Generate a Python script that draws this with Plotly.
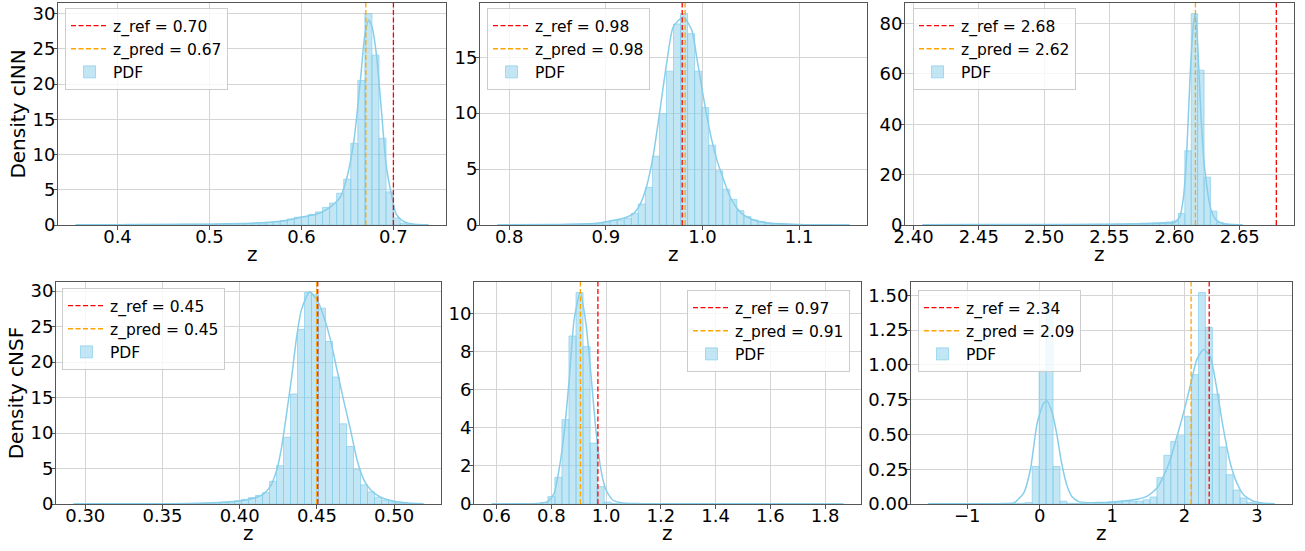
import plotly.graph_objects as go

FONT = "DejaVu Sans"
SKY = "#87ceeb"
N_BINS = 50
W, H = 1305, 551

# ── Panel 1: cINN, z_ref 0.70 ─────────────────────────────────────────
P1_ZMIN, P1_ZMAX = 0.3545, 0.738
P1_ZREF, P1_ZPRED = 0.700, 0.670
P1_DENSITY = [
    0.05, 0.03, 0.05, 0.05, 0.06, 0.05, 0.07, 0.08, 0.06, 0.08,
    0.08, 0.09, 0.10, 0.09, 0.10, 0.11, 0.12, 0.12, 0.13, 0.14,
    0.15, 0.16, 0.18, 0.20, 0.22, 0.25, 0.30, 0.35, 0.45, 0.60,
    0.85, 1.10, 1.20, 1.50, 1.85, 2.50, 3.10, 4.50, 6.50, 11.6,
    20.5, 30.0, 24.1, 12.3, 4.70, 1.00, 0.25, 0.08, 0.03, 0.02,
]
P1_KDE_Z = [0.355, 0.40, 0.45, 0.50, 0.54, 0.565, 0.581, 0.599, 0.617, 0.631,
            0.642, 0.649, 0.657, 0.664, 0.669, 0.673, 0.677, 0.6815, 0.687,
            0.692, 0.698, 0.703, 0.710, 0.721, 0.738]
P1_KDE_D = [0.03, 0.05, 0.08, 0.12, 0.22, 0.40, 0.60, 1.10, 1.55, 2.50,
            3.90, 6.50, 11.9, 20.4, 27.0, 29.1, 28.0, 24.2, 16.2,
            8.60, 4.20, 1.55, 0.60, 0.15, 0.02]

# ── Panel 2: cINN, z_ref 0.98 ─────────────────────────────────────────
P2_ZMIN, P2_ZMAX = 0.788, 1.152
P2_ZREF, P2_ZPRED = 0.979, 0.982
P2_DENSITY = [
    0.01, 0.01, 0.01, 0.01, 0.02, 0.02, 0.02, 0.03, 0.03, 0.04,
    0.05, 0.06, 0.07, 0.08, 0.12, 0.25, 0.42, 0.45, 0.60, 1.04,
    1.87, 3.36, 6.15, 9.95, 13.75, 17.97, 18.9, 17.1, 13.75, 10.5,
    7.13, 4.84, 3.20, 2.29, 1.28, 0.75, 0.45, 0.30, 0.18, 0.10,
    0.06, 0.04, 0.03, 0.02, 0.02, 0.01, 0.01, 0.01, 0.01, 0.01,
]
P2_KDE_Z = [0.788, 0.85, 0.890, 0.904, 0.918, 0.9283, 0.9352, 0.942, 0.949,
            0.9559, 0.9628, 0.9697, 0.980, 0.989, 0.994, 1.001, 1.008, 1.015,
            1.022, 1.0287, 1.0356, 1.0425, 1.053, 1.066, 1.10, 1.152]
P2_KDE_D = [0.01, 0.05, 0.15, 0.35, 0.60, 1.00, 1.80, 3.40, 6.20,
            10.2, 14.4, 17.7, 18.6, 17.4, 15.0, 11.4, 8.20, 5.80,
            4.00, 2.50, 1.50, 0.90, 0.45, 0.20, 0.05, 0.01]

# ── Panel 3: cINN, z_ref 2.68 ─────────────────────────────────────────
P3_ZMIN, P3_ZMAX = 2.407, 2.652
P3_ZREF, P3_ZPRED = 2.678, 2.616
P3_DENSITY = [
    0.10, 0.10, 0.10, 0.10, 0.10, 0.10, 0.10, 0.10, 0.10, 0.10,
    0.15, 0.15, 0.15, 0.15, 0.15, 0.15, 0.15, 0.15, 0.15, 0.15,
    0.20, 0.20, 0.20, 0.25, 0.25, 0.25, 0.30, 0.30, 0.30, 0.35,
    0.40, 0.40, 0.50, 0.60, 0.70, 0.80, 0.90, 1.00, 1.20, 1.60,
    4.60, 29.5, 84.0, 61.5, 19.0, 5.50, 1.00, 0.30, 0.10, 0.05,
]
P3_KDE_Z = [2.407, 2.45, 2.50, 2.55, 2.58, 2.595, 2.600, 2.604, 2.6066,
            2.6092, 2.612, 2.6145, 2.616, 2.618, 2.6203, 2.623, 2.628,
            2.632, 2.637, 2.645, 2.652]
P3_KDE_D = [0.10, 0.15, 0.20, 0.30, 0.50, 0.80, 1.00, 3.30, 10.0,
            27.0, 60.0, 80.0, 84.0, 69.0, 43.0, 23.0, 6.00,
            2.00, 0.60, 0.20, 0.10]

# ── Panel 4: cNSF, z_ref 0.45 ─────────────────────────────────────────
P4_ZMIN, P4_ZMAX = 0.2924, 0.519
P4_ZREF, P4_ZPRED = 0.4505, 0.4498
P4_DENSITY = [
    0.01, 0.01, 0.01, 0.02, 0.02, 0.02, 0.02, 0.03, 0.03, 0.03,
    0.04, 0.04, 0.05, 0.05, 0.06, 0.07, 0.08, 0.10, 0.12, 0.15,
    0.20, 0.25, 0.35, 0.45, 0.65, 0.90, 1.20, 1.60, 3.20, 5.40,
    9.40, 15.5, 24.6, 29.8, 29.5, 27.6, 22.9, 17.9, 11.3, 8.10,
    4.90, 2.70, 1.70, 0.95, 0.55, 0.30, 0.15, 0.08, 0.04, 0.02,
]
P4_KDE_Z = [0.2924, 0.30, 0.35, 0.38, 0.400, 0.4088, 0.4153, 0.4196, 0.424,
            0.4272, 0.4304, 0.4337, 0.4369, 0.440, 0.4452, 0.450, 0.4543,
            0.4587, 0.463, 0.4674, 0.4717, 0.476, 0.4804, 0.4847, 0.4912,
            0.4999, 0.5086, 0.519]
P4_KDE_D = [0.01, 0.02, 0.05, 0.15, 0.42, 0.80, 1.40, 2.40, 4.80,
            8.10, 12.8, 18.0, 23.6, 27.4, 29.9, 28.8, 26.5,
            23.2, 18.9, 14.5, 10.5, 6.20, 3.40, 2.00, 0.95,
            0.38, 0.15, 0.05]

# ── Panel 5: cNSF, z_ref 0.97 ─────────────────────────────────────────
P5_ZMIN, P5_ZMAX = 0.5816, 1.867
P5_ZREF, P5_ZPRED = 0.970, 0.906
P5_DENSITY = [
    0.00, 0.00, 0.00, 0.01, 0.01, 0.02, 0.03, 0.08, 0.39, 1.40,
    4.43, 8.82, 11.1, 8.26, 3.20, 0.91, 0.10, 0.03, 0.01, 0.00,
    0.00, 0.00, 0.00, 0.00, 0.00, 0.00, 0.00, 0.00, 0.00, 0.00,
    0.00, 0.00, 0.00, 0.00, 0.00, 0.00, 0.00, 0.00, 0.00, 0.00,
    0.00, 0.00, 0.00, 0.00, 0.00, 0.00, 0.00, 0.00, 0.00, 0.00,
]
P5_KDE_Z = [0.5816, 0.70, 0.749, 0.786, 0.810, 0.828, 0.8466, 0.865, 0.8834,
            0.9054, 0.926, 0.944, 0.9626, 0.981, 0.9994, 1.024, 1.055,
            1.10, 1.30, 1.867]
P5_KDE_D = [0.005, 0.01, 0.02, 0.12, 0.56, 1.80, 3.70, 6.50, 9.70,
            11.1, 9.50, 6.90, 3.90, 1.80, 0.74, 0.21, 0.07,
            0.02, 0.01, 0.005]

# ── Panel 6: cNSF, z_ref 2.34 ─────────────────────────────────────────
P6_ZMIN, P6_ZMAX = -1.538, 3.244
P6_ZREF, P6_ZPRED = 2.34, 2.09
P6_DENSITY = [
    0.00, 0.00, 0.00, 0.00, 0.00, 0.00, 0.00, 0.00, 0.00, 0.00,
    0.00, 0.00, 0.003, 0.005, 0.01, 0.27, 0.962, 1.44, 0.27, 0.02,
    0.005, 0.005, 0.005, 0.01, 0.01, 0.01, 0.015, 0.015, 0.02, 0.02,
    0.02, 0.03, 0.05, 0.19, 0.35, 0.45, 0.49, 0.63, 0.93, 1.52,
    1.27, 0.79, 0.41, 0.21, 0.10, 0.043, 0.01, 0.005, 0.00, 0.00,
]
P6_KDE_Z = [-1.538, -1.0, -0.5, -0.35, -0.22, -0.128, -0.036, 0.05, 0.10,
            0.17, 0.24, 0.30, 0.378, 0.45, 0.55, 0.80, 1.02, 1.297, 1.48,
            1.62, 1.71, 1.803, 1.895, 1.986, 2.079, 2.17, 2.262, 2.354,
            2.447, 2.538, 2.63, 2.723, 2.814, 2.952, 3.10, 3.244]
P6_KDE_D = [0.001, 0.001, 0.003, 0.01, 0.08, 0.25, 0.58, 0.72, 0.74,
            0.66, 0.49, 0.30, 0.13, 0.05, 0.015, 0.01, 0.015, 0.03, 0.055,
            0.115, 0.20, 0.32, 0.487, 0.655, 0.85, 1.04, 1.11, 1.06,
            0.82, 0.535, 0.295, 0.15, 0.067, 0.02, 0.006, 0.002]

# ── Layout per panel (pixel boxes, legend corners, tick steps) ────────
PANELS = [
    dict(zmin=P1_ZMIN, zmax=P1_ZMAX, zref=P1_ZREF, zpred=P1_ZPRED,
         dens=P1_DENSITY, kz=P1_KDE_Z, kd=P1_KDE_D,
         box=(58, 446, 3, 225), leg=(65, 8), xdt=0.1, xfmt=".1f",
         ydt=5, yfmt="d", ytitle="Density cINN"),
    dict(zmin=P2_ZMIN, zmax=P2_ZMAX, zref=P2_ZREF, zpred=P2_ZPRED,
         dens=P2_DENSITY, kz=P2_KDE_Z, kd=P2_KDE_D,
         box=(480, 867, 3, 225), leg=(487, 8), xdt=0.1, xfmt=".1f",
         ydt=5, yfmt="d", ytitle=None),
    dict(zmin=P3_ZMIN, zmax=P3_ZMAX, zref=P3_ZREF, zpred=P3_ZPRED,
         dens=P3_DENSITY, kz=P3_KDE_Z, kd=P3_KDE_D,
         box=(905, 1294, 3, 225), leg=(913, 8), xdt=0.05, xfmt=".2f",
         ydt=20, yfmt="d", ytitle=None),
    dict(zmin=P4_ZMIN, zmax=P4_ZMAX, zref=P4_ZREF, zpred=P4_ZPRED,
         dens=P4_DENSITY, kz=P4_KDE_Z, kd=P4_KDE_D,
         box=(56, 441, 282, 504), leg=(62, 288), xdt=0.05, xfmt=".2f",
         ydt=5, yfmt="d", ytitle="Density cNSF"),
    dict(zmin=P5_ZMIN, zmax=P5_ZMAX, zref=P5_ZREF, zpred=P5_ZPRED,
         dens=P5_DENSITY, kz=P5_KDE_Z, kd=P5_KDE_D,
         box=(474, 861, 282, 504), leg=(687, 290), xdt=0.2, xfmt=".1f",
         ydt=2, yfmt="d", ytitle=None),
    dict(zmin=P6_ZMIN, zmax=P6_ZMAX, zref=P6_ZREF, zpred=P6_ZPRED,
         dens=P6_DENSITY, kz=P6_KDE_Z, kd=P6_KDE_D,
         box=(911, 1292, 282, 504), leg=(918, 290), xdt=1, xfmt="d",
         ydt=0.25, yfmt=".2f", ytitle=None),
]

fig = go.Figure()
annotations = []
layout = dict(
    template="none",
    width=W, height=H,
    margin=dict(l=0, r=0, t=0, b=0, autoexpand=False),
    paper_bgcolor="white", plot_bgcolor="white",
    font=dict(family=FONT, size=18, color="black"),
    showlegend=True,
)

for i, p in enumerate(PANELS, start=1):
    sfx = "" if i == 1 else str(i)
    xa, ya = f"x{sfx}", f"y{sfx}"
    leg = "legend" if i == 1 else f"legend{i}"

    width = (p["zmax"] - p["zmin"]) / N_BINS
    centers = [p["zmin"] + width * (k + 0.5) for k in range(N_BINS)]
    ytop = 1.05 * max(p["dens"])
    lo = min(p["zmin"], p["zref"], p["zpred"])
    hi = max(p["zmax"], p["zref"], p["zpred"])
    pad = 0.05 * (hi - lo)

    fig.add_trace(go.Bar(
        x=centers, y=p["dens"], width=width,
        marker=dict(color="rgba(135, 206, 235, 0.5)",
                    line=dict(color="rgba(135, 206, 235, 0.9)", width=0.8)),
        name="PDF", legend=leg, legendrank=3,
        xaxis=xa, yaxis=ya,
    ))
    fig.add_trace(go.Scatter(
        x=p["kz"], y=p["kd"], mode="lines",
        line=dict(color=SKY, width=1.5, shape="spline", smoothing=0.6),
        showlegend=False, xaxis=xa, yaxis=ya, hoverinfo="skip",
    ))
    fig.add_trace(go.Scatter(
        x=[p["zref"], p["zref"]], y=[0, ytop], mode="lines",
        line=dict(color="#ff0000", width=1.3, dash="5px,2.5px"),
        name=f"z_ref = {p['zref']:.2f}", legend=leg, legendrank=1,
        xaxis=xa, yaxis=ya,
    ))
    fig.add_trace(go.Scatter(
        x=[p["zpred"], p["zpred"]], y=[0, ytop], mode="lines",
        line=dict(color="#ffa500", width=1.3, dash="5px,2.5px"),
        name=f"z_pred = {p['zpred']:.2f}", legend=leg, legendrank=2,
        xaxis=xa, yaxis=ya,
    ))

    x0, x1, y0, y1 = p["box"]
    axis_common = dict(
        automargin=False,
        showgrid=True, gridcolor="#d4d4d4", gridwidth=1,
        showline=True, linecolor="#555555", linewidth=1, mirror=True,
        ticks="outside", ticklen=4, tickcolor="#555555",
        tickfont=dict(size=18), zeroline=False,
    )
    layout[f"xaxis{sfx}"] = dict(
        axis_common, domain=[x0 / W, x1 / W], anchor=ya,
        range=[lo - pad, hi + pad], dtick=p["xdt"], tick0=0,
        tickformat=p["xfmt"], ticklabelstandoff=-9,
    )
    layout[f"yaxis{sfx}"] = dict(
        axis_common, domain=[1 - y1 / H, 1 - y0 / H], anchor=xa,
        range=[0, ytop], dtick=p["ydt"], tick0=0, tickformat=p["yfmt"],
        ticklabelstandoff=-6,
        title=dict(text=p["ytitle"] or "", font=dict(size=20), standoff=1),
    )
    # x-axis title "z" placed just under the tick labels
    annotations.append(dict(
        text="z", x=(x0 + x1) / 2 / W, y=1 - (y1 + 29) / H,
        xref="paper", yref="paper", xanchor="center", yanchor="middle",
        showarrow=False, font=dict(size=20),
    ))
    lx, ly = p["leg"]
    layout[leg] = dict(
        x=lx / W, y=1 - ly / H, xref="paper", yref="paper",
        xanchor="left", yanchor="top",
        bgcolor="rgba(255,255,255,0.8)", bordercolor="#cccccc", borderwidth=1,
        font=dict(size=15.5), itemwidth=37, tracegroupgap=4,
    )

layout["annotations"] = annotations
fig.update_layout(**layout)
fig.write_html(
    "out.html",
    config={"displayModeBar": False},
    post_script="document.body.style.margin='0px';",
)
